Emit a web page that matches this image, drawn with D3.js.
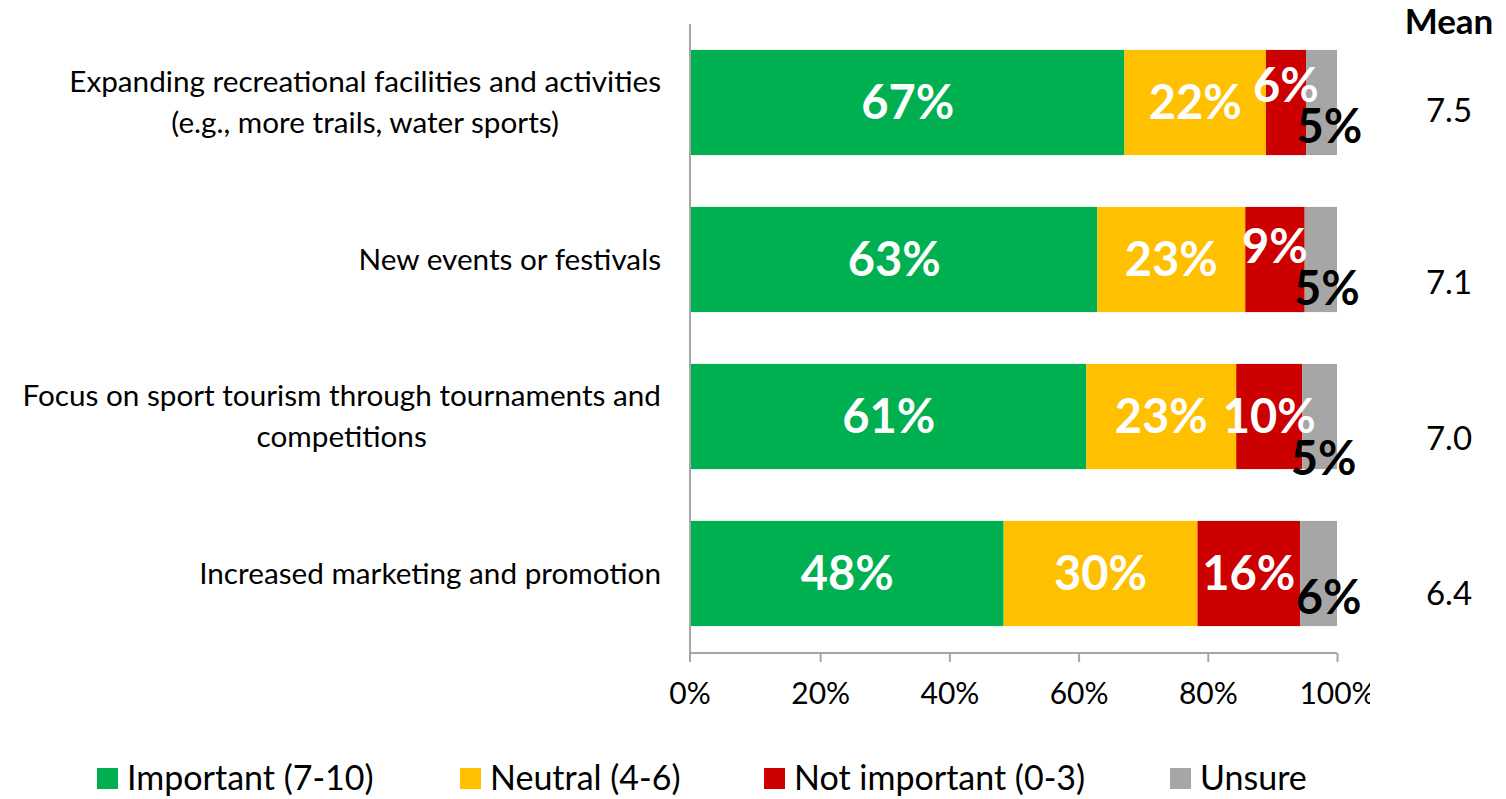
<!DOCTYPE html>
<html><head><meta charset="utf-8">
<script src="https://cdn.jsdelivr.net/npm/d3@7"></script>
<style>
body{margin:0;background:#fff;}
text{font-family:Lato,"Noto Sans",sans-serif;}
</style></head>
<body><svg id="c" width="1506" height="799"></svg>
<script>
const categories = [
  ["Expanding recreational facilities and activities","(e.g., more trails, water sports)"],
  ["New events or festivals"],
  ["Focus on sport tourism through tournaments and","competitions"],
  ["Increased marketing and promotion"]
];
const seriesNames = ["Important (7-10)","Neutral (4-6)","Not important (0-3)","Unsure"];
const important = [67.1, 62.9, 61.2, 48.4];
const neutral = [21.9, 22.9, 23.2, 30.0];
const notImportant = [6.2, 9.2, 10.2, 15.9];
const unsure = [4.8, 5.0, 5.4, 5.7];
const means = ["7.5","7.1","7.0","6.4"];
const tickValues = [0,20,40,60,80,100];

const colors = ["#00B050","#FFC000","#CC0000","#A6A6A6"];
const labelColors = ["#fff","#fff","#fff","#000"];
// manual label nudges (per series, per category) as in the original
const labelDy = [[0,0,0,0],[0,0,0,0],[-17,-13,0,0],[24,29,42,24]];
const labelDx = [[0,0,0,0],[0,0,0,0],[0,0,0,0],[8,6,4,10]];
const meanDy = [8,23,22,20];

const svg = d3.select("#c");
const keys = categories.map((c,i)=>i);
const x = d3.scaleLinear().domain([0,100]).range([691,1337]);
const y = d3.scaleBand().domain(keys).range([24,652]).paddingInner(0.33).paddingOuter(0.165);

const rows = keys.map(i=>({i, vals:[important[i],neutral[i],notImportant[i],unsure[i]]}));
const stack = d3.stack().keys([0,1,2,3]).value((d,k)=>d.vals[k]);
const series = stack(rows);

// bars
series.forEach((s,si)=>{
  svg.append("g").selectAll("rect").data(s).join("rect")
    .attr("x",d=>x(d[0])).attr("width",d=>x(d[1])-x(d[0]))
    .attr("y",d=>y(d.data.i)).attr("height",y.bandwidth())
    .attr("fill",colors[si]);
});

// category axis line
svg.append("line").attr("x1",690).attr("x2",690).attr("y1",24).attr("y2",653)
  .attr("stroke","#A6A6A6").attr("stroke-width",2);

// x axis (labels clipped at the right like the original)
svg.append("clipPath").attr("id","axclip2").append("rect").attr("x",600).attr("y",600).attr("width",770).attr("height",150);
const wrap = svg.append("g").attr("clip-path","url(#axclip2)");
const xAxis = wrap.append("g").attr("transform","translate(0,653)")
  .call(d3.axisBottom(x).tickValues(tickValues).tickFormat(d=>d+"%").tickSize(9).tickSizeOuter(0));
xAxis.select(".domain").attr("stroke","#A6A6A6").attr("stroke-width",2).attr("d","M690,0H1337");
xAxis.selectAll(".tick line").attr("stroke","#A6A6A6").attr("stroke-width",2);
xAxis.selectAll(".tick").filter(d=>d===0).attr("transform","translate(690,0)");
xAxis.selectAll(".tick text").attr("font-family","Lato").attr("font-size",30).attr("fill","#000")
  .attr("y",40).attr("dy","0.35em");

// data labels
series.forEach((s,si)=>{
  svg.append("g").selectAll("text").data(s).join("text")
    .attr("x",(d,j)=>(x(d[0])+x(d[1]))/2 + labelDx[si][j])
    .attr("y",(d,j)=>y(d.data.i)+y.bandwidth()/2 + labelDy[si][j])
    .attr("dy","0.36em").attr("text-anchor","middle")
    .attr("font-size",47).attr("font-weight","bold").attr("fill",labelColors[si])
    .text(d=>Math.round(d[1]-d[0])+"%");
});

// category labels
const lineH = 41;
const catFont = 29.7;
categories.forEach((lines,i)=>{
  const cy = y(i)+y.bandwidth()/2;
  const n = lines.length;
  const widths = lines.map(l=>{
    const e = svg.append("text").attr("font-size",catFont).text(l);
    const w = e.node().getComputedTextLength(); e.remove(); return w;
  });
  const cx = 661 - d3.max(widths)/2;
  const t = svg.append("text").attr("font-size",catFont).attr("fill","#000").attr("text-anchor","middle");
  lines.forEach((l,k)=>{
    t.append("tspan").attr("x",cx)
      .attr("y",cy + (k-(n-1)/2)*lineH).attr("dy","0.35em").text(l);
  });
});

// mean column
svg.append("text").attr("x",1449).attr("y",22).attr("dy","0.35em").attr("text-anchor","middle")
  .attr("font-size",35).attr("font-weight","bold").text("Mean");
svg.append("g").selectAll("text").data(means).join("text")
  .attr("x",1449).attr("y",(d,i)=>y(i)+y.bandwidth()/2+meanDy[i]).attr("dy","0.35em")
  .attr("text-anchor","middle").attr("font-size",33).text(d=>d);

// legend
const legX = [97,460,764,1170];
const lg = svg.append("g");
seriesNames.forEach((n,i)=>{
  lg.append("rect").attr("x",legX[i]).attr("y",768).attr("width",21).attr("height",21).attr("fill",colors[i]);
  lg.append("text").attr("x",legX[i]+30).attr("y",778).attr("dy","0.35em").attr("font-size",34).text(n);
});
</script></body></html>
